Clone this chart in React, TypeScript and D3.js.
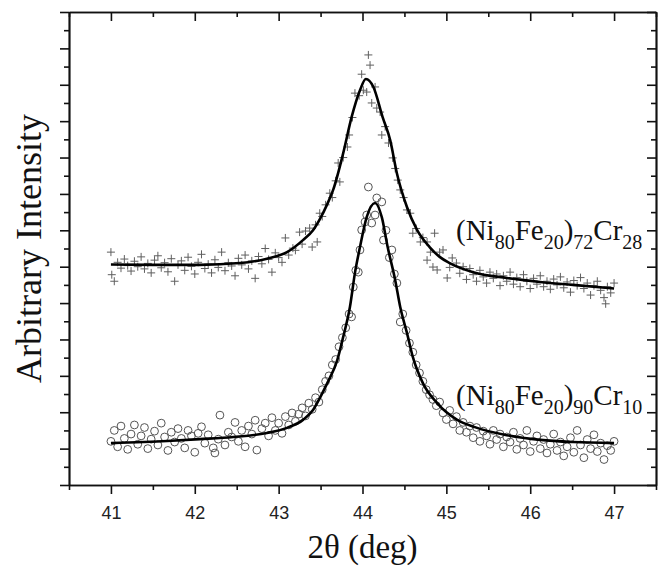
import React, { useEffect, useRef } from 'react';
import * as d3 from 'd3';

const xMajorTicks = [41, 42, 43, 44, 45, 46, 47];
const xMinorTicks = [40.5, 41.5, 42.5, 43.5, 44.5, 45.5, 46.5, 47.5];
const yMajorTicks = [0, 100, 200, 300, 400, 500, 600, 700, 800, 900, 1000, 1100, 1200, 1300];
const yMinorTicks = [50, 150, 250, 350, 450, 550, 650, 750, 850, 950, 1050, 1150, 1250];

// (Ni80Fe20)72Cr28 measured points (crosses)
const topPoints: [number, number][] = [
  [41.00, 640], [41.01, 578], [41.04, 560], [41.08, 612], [41.12, 596], [41.16, 621], [41.20, 603], [41.24, 588],
  [41.28, 615], [41.32, 600], [41.36, 627], [41.40, 594], [41.44, 609], [41.48, 583], [41.52, 618], [41.56, 630],
  [41.60, 597], [41.64, 611], [41.68, 586], [41.72, 622], [41.76, 560], [41.80, 605], [41.84, 616], [41.88, 590],
  [41.92, 626], [41.96, 601], [42.00, 580], [42.04, 612], [42.08, 634], [42.12, 595], [42.16, 607], [42.20, 583],
  [42.24, 619], [42.28, 598], [42.32, 640], [42.36, 589], [42.40, 611], [42.44, 602], [42.48, 575], [42.52, 623],
  [42.56, 605], [42.60, 632], [42.64, 594], [42.68, 616], [42.72, 568], [42.76, 628], [42.80, 608], [42.84, 650],
  [42.88, 620], [42.92, 585], [42.96, 638], [43.00, 625], [43.04, 612], [43.08, 679], [43.12, 632], [43.17, 651],
  [43.20, 645], [43.25, 695], [43.28, 662], [43.32, 698], [43.37, 706], [43.40, 654], [43.44, 715], [43.46, 668],
  [43.49, 747], [43.52, 738], [43.56, 770], [43.61, 802], [43.64, 790], [43.68, 836], [43.71, 885], [43.73, 833],
  [43.77, 900], [43.82, 929], [43.84, 962], [43.88, 1010], [43.91, 1077], [43.96, 1070], [43.99, 1129], [44.01, 1085],
  [44.05, 1080], [44.07, 1182], [44.09, 1154], [44.11, 1050], [44.15, 1094], [44.17, 1036], [44.21, 1025], [44.23, 962],
  [44.27, 985], [44.31, 940], [44.36, 899], [44.39, 870], [44.42, 838], [44.45, 811], [44.49, 790], [44.53, 756],
  [44.57, 747], [44.60, 692], [44.64, 705], [44.69, 668], [44.72, 680], [44.77, 668], [44.77, 618], [44.81, 640],
  [44.84, 599], [44.86, 692], [44.89, 591], [44.92, 640], [44.96, 646], [45.01, 569], [45.04, 598], [45.07, 624],
  [45.12, 610], [45.16, 582], [45.20, 600], [45.24, 565], [45.28, 595], [45.32, 578], [45.36, 560], [45.40, 590],
  [45.44, 572], [45.48, 555], [45.52, 585], [45.56, 568], [45.60, 580], [45.64, 548], [45.68, 575], [45.72, 560],
  [45.76, 585], [45.80, 552], [45.84, 570], [45.88, 545], [45.92, 578], [45.96, 560], [46.00, 540], [46.04, 568],
  [46.08, 552], [46.12, 575], [46.16, 545], [46.20, 560], [46.24, 538], [46.28, 566], [46.32, 550], [46.36, 572],
  [46.40, 542], [46.44, 558], [46.48, 530], [46.52, 562], [46.56, 548], [46.60, 570], [46.64, 540], [46.68, 555],
  [46.72, 522], [46.76, 548], [46.80, 560], [46.84, 535], [46.88, 515], [46.90, 498], [46.92, 545], [46.96, 528],
  [47.00, 555],
];

// fitted curve for (Ni80Fe20)72Cr28
const topFit: [number, number][] = [
  [41.00, 606], [41.50, 605], [42.06, 605], [42.54, 610], [42.86, 622], [43.10, 640], [43.29, 673], [43.41, 700],
  [43.49, 730], [43.58, 772], [43.65, 811], [43.77, 912], [43.87, 1011], [43.97, 1085], [44.04, 1116], [44.13, 1094],
  [44.24, 1011], [44.33, 948], [44.41, 857], [44.53, 764], [44.65, 701], [44.80, 654], [44.92, 627], [45.04, 610],
  [45.32, 585], [45.72, 569], [46.12, 558], [46.51, 550], [47.00, 540],
];

// (Ni80Fe20)90Cr10 measured points (circles)
const botPoints: [number, number][] = [
  [41.00, 120], [41.04, 150], [41.08, 105], [41.12, 162], [41.16, 128], [41.20, 98], [41.24, 140], [41.28, 165],
  [41.32, 112], [41.36, 135], [41.40, 158], [41.44, 100], [41.48, 126], [41.52, 148], [41.56, 110], [41.60, 170],
  [41.64, 132], [41.68, 95], [41.72, 145], [41.76, 118], [41.80, 155], [41.84, 128], [41.88, 102], [41.92, 150],
  [41.96, 135], [42.00, 90], [42.04, 142], [42.08, 160], [42.12, 115], [42.16, 138], [42.22, 102], [42.24, 88],
  [42.28, 126], [42.30, 192], [42.36, 110], [42.40, 145], [42.44, 132], [42.48, 172], [42.52, 120], [42.56, 150],
  [42.60, 105], [42.64, 162], [42.68, 140], [42.72, 178], [42.74, 96], [42.80, 155], [42.84, 170], [42.88, 135],
  [42.92, 185], [42.96, 150], [43.00, 170], [43.04, 142], [43.08, 188], [43.12, 165], [43.16, 198], [43.20, 175],
  [43.24, 195], [43.28, 212], [43.32, 190], [43.36, 225], [43.40, 208], [43.44, 240], [43.48, 228], [43.52, 262],
  [43.56, 285], [43.60, 300], [43.64, 330], [43.68, 345], [43.72, 380], [43.76, 405], [43.80, 432], [43.84, 470],
  [43.87, 462], [43.89, 544], [43.92, 590], [43.95, 585], [43.97, 646], [43.99, 701], [44.03, 723], [44.05, 742],
  [44.07, 819], [44.11, 720], [44.15, 742], [44.17, 789], [44.23, 778], [44.25, 673], [44.28, 700], [44.32, 625],
  [44.35, 646], [44.38, 580], [44.41, 555], [44.45, 448], [44.48, 470], [44.52, 425], [44.56, 390], [44.60, 365],
  [44.64, 330], [44.68, 308], [44.72, 285], [44.76, 262], [44.80, 248], [44.84, 235], [44.88, 218], [44.92, 228],
  [44.96, 198], [45.00, 180], [45.04, 205], [45.08, 168], [45.12, 188], [45.16, 150], [45.20, 172], [45.24, 145],
  [45.28, 162], [45.32, 130], [45.36, 158], [45.40, 120], [45.44, 148], [45.48, 135], [45.52, 112], [45.56, 150],
  [45.60, 125], [45.64, 140], [45.68, 105], [45.72, 132], [45.76, 118], [45.80, 145], [45.84, 98], [45.88, 128],
  [45.92, 110], [45.96, 150], [46.00, 92], [46.04, 120], [46.08, 135], [46.12, 100], [46.16, 125], [46.20, 88],
  [46.24, 112], [46.28, 140], [46.32, 95], [46.36, 118], [46.40, 80], [46.44, 105], [46.48, 130], [46.52, 90],
  [46.56, 150], [46.60, 110], [46.64, 75], [46.68, 125], [46.72, 100], [46.76, 138], [46.80, 92], [46.84, 115],
  [46.88, 70], [46.92, 108], [46.96, 95], [47.00, 120],
];

// fitted curve for (Ni80Fe20)90Cr10
const botFit: [number, number][] = [
  [41.00, 115], [41.67, 121], [42.06, 126], [42.46, 132], [42.86, 143], [43.10, 157], [43.29, 179], [43.41, 206],
  [43.50, 243], [43.58, 280], [43.70, 344], [43.77, 407], [43.85, 489], [43.91, 583], [43.97, 654], [44.05, 736],
  [44.15, 775], [44.23, 736], [44.30, 654], [44.39, 563], [44.45, 489], [44.53, 418], [44.60, 352], [44.72, 280],
  [44.89, 225], [45.13, 179], [45.34, 159], [45.72, 137], [46.12, 124], [46.51, 118], [47.00, 115],
];

const labelTop: [string, boolean][] = [
  ['(Ni', false], ['80', true], ['Fe', false], ['20', true], [')', false], ['72', true], ['Cr', false], ['28', true],
];
const labelBot: [string, boolean][] = [
  ['(Ni', false], ['80', true], ['Fe', false], ['20', true], [')', false], ['90', true], ['Cr', false], ['10', true],
];

const W = 659;
const H = 568;
const L = 69, R = 656, T = 12, B = 485;
const SERIF = "'Liberation Serif', 'Times New Roman', serif";
const SANS = "'Liberation Sans', Arial, sans-serif";

function Formula({ parts, x, y }: { parts: [string, boolean][]; x: number; y: number }) {
  let prevSub = false;
  return (
    <text x={x} y={y} fontFamily={SERIF} fontSize={29} fill="#111">
      {parts.map(([t, sub], i) => {
        const dy = sub && !prevSub ? 9 : !sub && prevSub ? -9 : 0;
        prevSub = sub;
        return (
          <tspan key={i} dy={dy} fontSize={sub ? 20 : 29}>
            {t}
          </tspan>
        );
      })}
    </text>
  );
}

export default function App() {
  const ref = useRef<SVGGElement>(null);
  const x = d3.scaleLinear().domain([40.5, 47.5]).range([L, R]);
  const y = d3.scaleLinear().domain([0, 1300]).range([B, T]);

  useEffect(() => {
    const g = d3.select(ref.current);
    g.selectAll('*').remove();
    const style = (sel: any) => {
      sel.selectAll('path.domain').attr('stroke', '#111').attr('stroke-width', 1.7);
      sel.selectAll('.tick line').attr('stroke', '#111').attr('stroke-width', 1.6);
      sel.selectAll('.tick text').attr('font-family', SANS).attr('font-size', 18).attr('fill', '#222');
    };
    const none = () => '';
    // bottom
    g.append('g').attr('transform', `translate(0,${B})`)
      .call(d3.axisBottom(x).tickValues(xMinorTicks).tickSize(5).tickSizeOuter(0).tickFormat(none as any)).call(style);
    g.append('g').attr('transform', `translate(0,${B})`)
      .call(d3.axisBottom(x).tickValues(xMajorTicks).tickSize(9).tickSizeOuter(0).tickPadding(12).tickFormat(d3.format('d') as any)).call(style);
    // top
    g.append('g').attr('transform', `translate(0,${T})`)
      .call(d3.axisTop(x).tickValues(xMinorTicks).tickSize(-5).tickSizeOuter(0).tickFormat(none as any)).call(style);
    g.append('g').attr('transform', `translate(0,${T})`)
      .call(d3.axisTop(x).tickValues(xMajorTicks).tickSize(-9).tickSizeOuter(0).tickFormat(none as any)).call(style);
    // left
    g.append('g').attr('transform', `translate(${L},0)`)
      .call(d3.axisLeft(y).tickValues(yMinorTicks).tickSize(5).tickSizeOuter(0).tickFormat(none as any)).call(style);
    g.append('g').attr('transform', `translate(${L},0)`)
      .call(d3.axisLeft(y).tickValues(yMajorTicks).tickSize(9).tickSizeOuter(0).tickFormat(none as any)).call(style);
    // right
    g.append('g').attr('transform', `translate(${R},0)`)
      .call(d3.axisRight(y).tickValues(yMinorTicks).tickSize(-5).tickSizeOuter(0).tickFormat(none as any)).call(style);
    g.append('g').attr('transform', `translate(${R},0)`)
      .call(d3.axisRight(y).tickValues(yMajorTicks).tickSize(-9).tickSizeOuter(0).tickFormat(none as any)).call(style);
  }, []);

  const line = d3.line<[number, number]>().x((d) => x(d[0])).y((d) => y(d[1])).curve(d3.curveMonotoneX);

  return (
    <svg width={W} height={H} style={{ position: 'absolute', left: 0, top: 0, background: '#fff' }}>
      <rect x={0} y={0} width={W} height={H} fill="#fff" />
      <g>
        {topPoints.map((d, i) => (
          <path
            key={'t' + i}
            transform={`translate(${x(d[0])},${y(d[1])})`}
            d="M-4,0H4M0,-4V4"
            stroke="#5f5f5f"
            strokeWidth={1}
            fill="none"
          />
        ))}
        {botPoints.map((d, i) => (
          <circle key={'b' + i} cx={x(d[0])} cy={y(d[1])} r={3.9} stroke="#555" strokeWidth={1} fill="none" />
        ))}
      </g>
      <path d={line(topFit) || ''} stroke="#000" strokeWidth={2.6} fill="none" />
      <path d={line(botFit) || ''} stroke="#000" strokeWidth={2.6} fill="none" />
      <g ref={ref} />
      <Formula parts={labelTop} x={456} y={240} />
      <Formula parts={labelBot} x={456} y={405} />
      <text
        transform={`translate(41,${(T + B) / 2}) rotate(-90)`}
        textAnchor="middle"
        fontFamily={SERIF}
        fontSize={36}
        fill="#111"
      >
        Arbitrary Intensity
      </text>
      <text x={(L + R) / 2} y={558} textAnchor="middle" fontFamily={SERIF} fontSize={33} fill="#111">
        2θ (deg)
      </text>
    </svg>
  );
}
